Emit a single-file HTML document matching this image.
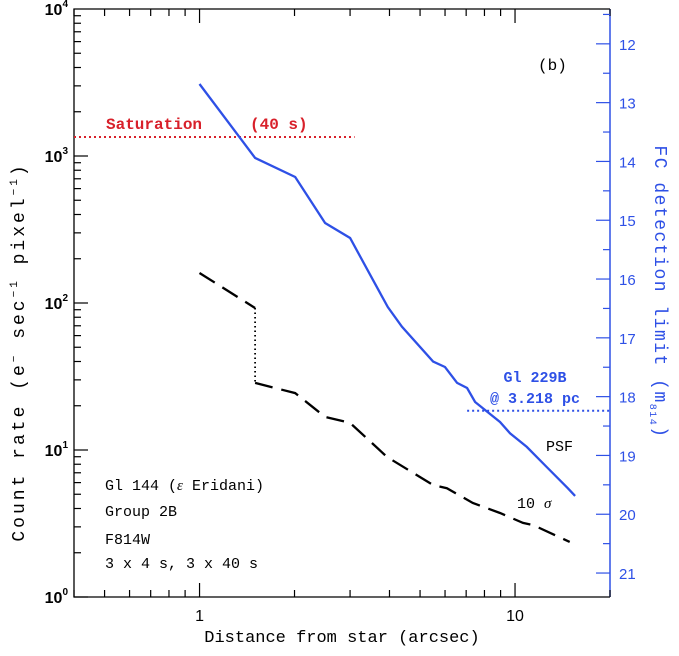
<!DOCTYPE html>
<html><head><meta charset="utf-8"><style>
body{margin:0;background:#fff}
svg{display:block;font-family:"Liberation Sans",sans-serif}
</style></head><body>
<svg id="c" width="679" height="656" viewBox="0 0 679 656">
<g id="marks"></g>
</svg>
<script>
const psfX=[1,1.5,2.01,2.5,3.0,3.55,3.95,4.38,5.5,6.0,6.55,7.05,7.47,8.96,9.64,10.9,12.6,14.7,15.5];
const psfY=[3090,970,720,350,277,143,94,69,40,36.7,28.6,26.4,21.2,15.5,13,10.5,7.66,5.5,4.87];
const sigAX=[1,1.5];
const sigAY=[160,92.5];
const sigBX=[1.5,2.01,2.5,3.0,3.93,5.5,6.08,7.35,8.96,10.6,11.4,14.9];
const sigBY=[28.6,24.4,16.8,15.3,8.96,5.78,5.5,4.36,3.73,3.19,3.09,2.37];
const saturation=1346;
const satRange=[0.4,3.1];
const gl229Mag=18.24;
const gl229Range=[7.05,20];
const yTickLabels=["0","1","2","3","4"];
const xTickLabels=["1","10"];
const magTicks=[12,13,14,15,16,17,18,19,20,21];

const L=74,R=610,T=9,B=597;
const xmin=0.4,xmax=20;
const X=v=>L+(Math.log10(v)-Math.log10(xmin))/(Math.log10(xmax)-Math.log10(xmin))*(R-L);
const Y=v=>B-Math.log10(v)/4*(B-T);
const magToLog=m=>0.163+(21-m)/2.5;
const YM=m=>B-magToLog(m)/4*(B-T);
const NS="http://www.w3.org/2000/svg";
const g=document.getElementById('marks');
function el(t,a,txt){const e=document.createElementNS(NS,t);for(const k in a)e.setAttribute(k,a[k]);if(txt!==undefined)e.textContent=txt;g.appendChild(e);return e;}
const BLUE="#2e50e6",RED="#d8202a";

let e;
e=el('path',{d:`M${R},${T}H${L}V${B}H${R}`,fill:'none',stroke:'#000','stroke-width':1.3});

e=el('line',{x1:R,y1:T,x2:R,y2:B,stroke:BLUE,'stroke-width':1.5});


for(let d=0.1;d<=10;d*=10){for(let k=1;k<10;k++){const v=Math.round(d*k*1000)/1000;if(v<xmin-1e-9||v>xmax+1e-9)continue;const len=k==1?14:7;const x=X(v);
e=el('line',{x1:x,y1:B,x2:x,y2:B-len,stroke:'#000','stroke-width':1.2});
e=el('line',{x1:x,y1:T,x2:x,y2:T+len,stroke:'#000','stroke-width':1.2});}}
xTickLabels.forEach(s=>{e=el('text',{x:X(+s),y:B+24,'font-size':16,'text-anchor':'middle'},s);});
for(let d=0;d<4;d++){for(let k=1;k<10;k++){const v=Math.pow(10,d)*k;const y=Y(v);const len=k==1?14:7;
e=el('line',{x1:L,y1:y,x2:L+len,y2:y,stroke:'#000','stroke-width':1.2});}}
yTickLabels.forEach(s=>{const y=Y(Math.pow(10,+s));const t=el('text',{x:L-6,y:y+6,'font-size':16,'text-anchor':'end','font-weight':'bold'});

t.innerHTML=`10<tspan dy="-8" font-size="10">${s}</tspan>`;});
for(let m=11.5;m<=21.5;m+=0.5){const y=YM(m);if(y<T||y>B)continue;const len=Number.isInteger(m)?14:7;
e=el('line',{x1:R,y1:y,x2:R-len,y2:y,stroke:BLUE,'stroke-width':1.2});}
magTicks.forEach(m=>{e=el('text',{x:R+9,y:YM(m)+6,'font-size':15,fill:BLUE},String(m));});

e=el('line',{x1:X(satRange[0]),y1:Y(saturation),x2:X(satRange[1]),y2:Y(saturation),stroke:RED,'stroke-width':2,'stroke-dasharray':'2 3'});

e=el('line',{x1:X(gl229Range[0]),y1:YM(gl229Mag),x2:X(gl229Range[1]),y2:YM(gl229Mag),stroke:BLUE,'stroke-width':2,'stroke-dasharray':'2 3'});

const pts=(xs,ys)=>xs.map((x,i)=>X(x).toFixed(1)+','+Y(ys[i]).toFixed(1)).join(' ');
e=el('polyline',{points:pts(psfX,psfY),fill:'none',stroke:BLUE,'stroke-width':2.3});

e=el('polyline',{points:pts(sigAX,sigAY),fill:'none',stroke:'#000','stroke-width':2.3,'stroke-dasharray':'18 9'});

e=el('line',{x1:X(sigAX[1]),y1:Y(sigAY[1]),x2:X(sigBX[0]),y2:Y(sigBY[0]),stroke:'#000','stroke-width':1.8,'stroke-dasharray':'1.5 3'});

e=el('polyline',{points:pts(sigBX,sigBY),fill:'none',stroke:'#000','stroke-width':2.3,'stroke-dasharray':'18 9'});

</script>
<div style="position:absolute;left:0;top:0;width:679px;height:656px;pointer-events:none">
<svg width="679" height="656" style="font-family:'Liberation Mono',monospace">
<text x="106" y="129" font-size="16" fill="#d8202a" font-weight="bold">Saturation</text>
<text x="250" y="129" font-size="16" fill="#d8202a" font-weight="bold">(40 s)</text>
<text x="538" y="70" font-size="16">(b)</text>
<text x="535" y="382" font-size="15" fill="#2e50e6" font-weight="bold" text-anchor="middle">Gl 229B</text>
<text x="535" y="403" font-size="15" fill="#2e50e6" font-weight="bold" text-anchor="middle">@ 3.218 pc</text>
<text x="546" y="451" font-size="15">PSF</text>
<text x="517" y="508" font-size="15">10 <tspan font-family="Liberation Serif" font-style="italic">σ</tspan></text>
<text x="105" y="490" font-size="15">Gl 144 (<tspan font-family="Liberation Serif" font-style="italic">ε</tspan> Eridani)</text>
<text x="105" y="516" font-size="15">Group 2B</text>
<text x="105" y="544" font-size="15">F814W</text>
<text x="105" y="568" font-size="15">3 x 4 s, 3 x 40 s</text>
<text x="342" y="642" font-size="17" text-anchor="middle">Distance from star (arcsec)</text>
<text transform="translate(24,352) rotate(-90)" font-size="18" letter-spacing="3" text-anchor="middle">Count rate (e<tspan dy="-7" font-size="11">−</tspan><tspan dy="7"> sec</tspan><tspan dy="-7" font-size="11">−1</tspan><tspan dy="7"> pixel</tspan><tspan dy="-7" font-size="11">−1</tspan><tspan dy="7">)</tspan></text>
<text transform="translate(655,292) rotate(90)" font-size="18" letter-spacing="1.5" fill="#2e50e6" text-anchor="middle">FC detection limit (m<tspan dy="5" font-size="10">814</tspan><tspan dy="-5">)</tspan></text>
</svg></div>
</body></html>
